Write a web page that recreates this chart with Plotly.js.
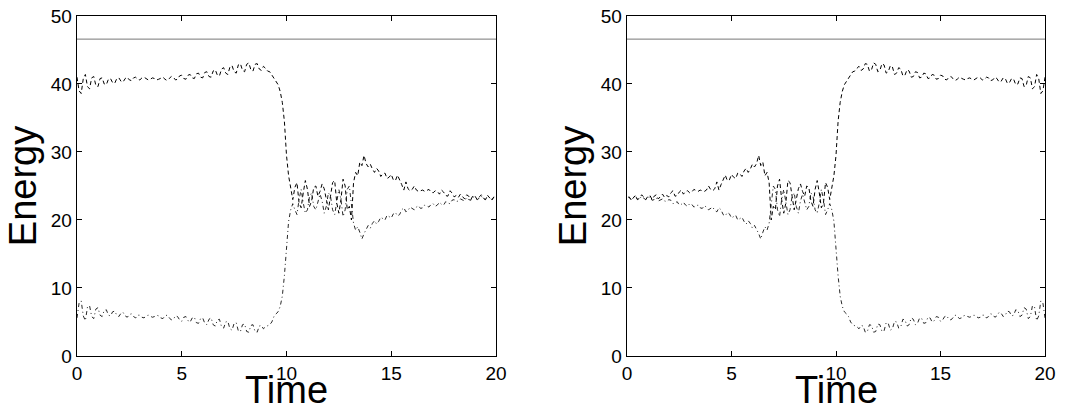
<!DOCTYPE html>
<html>
<head>
<meta charset="utf-8">
<script src="https://cdn.plot.ly/plotly-3.0.1.min.js"></script>
<style>html,body{margin:0;padding:0;background:#fff;}#chart{width:1075px;height:405px;}</style>
</head>
<body>
<div id="chart"></div>
<script>
// Time grid: samples every 0.1 from t = 0 to t = 20 (201 samples)
var timeStart = 0, timeStep = 0.1;

// Left panel, dashed series (upper mode at start)
var leftDashed = [
41.0,39.0,38.6,40.8,41.4,39.6,39.3,40.9,41.1,39.8,
39.6,40.8,40.9,40.0,39.9,40.7,40.8,40.2,40.1,40.8,
40.9,40.4,40.3,40.8,41.0,40.6,40.5,40.9,41.0,40.7,
40.6,40.9,41.0,40.8,40.6,40.7,40.9,40.8,40.6,40.7,
40.9,41.0,40.7,40.5,40.8,41.1,41.0,40.6,40.7,41.2,
41.3,40.8,40.7,41.3,41.4,40.9,40.8,41.5,41.6,41.0,
40.9,41.7,41.8,41.1,41.0,41.9,42.1,41.3,41.2,42.2,
42.4,41.6,41.4,42.5,42.7,41.8,41.6,42.8,43.0,42.0,
41.8,42.9,43.1,42.1,41.9,42.9,43.0,42.2,42.0,42.6,
42.3,41.9,41.8,41.3,40.8,40.3,39.9,38.9,37.3,34.5,
29.5,26.5,24.5,23.0,24.8,25.5,22.5,21.8,24.0,25.8,
24.5,22.0,22.8,24.8,25.0,23.5,24.2,25.3,24.6,22.8,
21.5,23.5,25.5,25.8,22.5,21.0,23.0,26.0,25.0,21.5,
22.0,20.0,25.5,27.0,26.5,28.5,28.0,29.5,28.3,27.8,
28.2,27.5,27.0,27.6,27.2,26.4,26.8,26.9,26.1,26.3,
26.7,25.9,25.8,26.6,26.0,25.2,24.4,25.6,24.6,24.3,
24.5,25.0,24.4,24.2,24.3,24.4,24.2,24.3,24.5,24.1,
24.0,24.3,24.2,23.8,24.4,24.1,23.6,23.5,24.3,24.0,
23.4,23.6,23.3,23.8,23.4,23.1,23.7,23.5,23.0,23.6,
23.5,23.0,23.4,23.7,23.2,23.0,23.6,23.3,22.9,23.4,
23.2
];

// Left panel, dash-dot series (lower mode at start)
var leftDashDot = [
5.6,7.8,8.1,5.9,5.2,7.2,7.4,5.8,5.5,6.9,
7.1,6.0,5.8,6.7,6.8,6.0,5.9,6.5,6.6,6.0,
5.8,6.3,6.4,5.9,5.7,6.1,6.2,5.8,5.6,6.0,
6.0,5.7,5.6,5.9,6.0,5.9,5.7,5.8,6.0,5.9,
5.6,5.5,5.9,6.0,5.6,5.3,5.4,5.9,5.8,5.3,
5.1,5.7,5.8,5.2,5.0,5.6,5.7,4.9,4.8,5.5,
5.6,4.8,4.6,5.4,5.6,4.6,4.4,5.3,5.4,4.3,
4.1,5.0,5.1,4.0,3.8,4.8,4.9,3.7,3.6,4.6,
4.7,3.6,3.5,4.5,4.6,3.6,3.5,4.4,4.5,4.0,
4.3,4.5,4.6,5.0,5.8,6.2,6.5,7.3,8.8,11.8,
16.5,19.8,21.5,22.4,21.5,20.8,23.0,24.5,22.5,21.0,
21.5,23.5,24.0,22.0,21.5,22.5,23.8,22.8,21.0,22.0,
24.0,23.5,21.5,20.8,23.0,24.5,23.0,20.5,21.5,24.5,
25.0,22.0,19.5,18.5,19.0,18.2,17.2,18.0,18.6,19.2,
18.8,19.5,19.9,19.4,19.8,20.4,20.2,20.0,20.7,20.5,
20.3,20.9,21.1,20.6,20.8,21.5,21.8,21.2,21.4,21.9,
21.7,21.5,21.9,22.1,21.7,21.8,22.2,22.0,21.9,22.3,
22.4,22.0,22.2,22.6,22.3,22.2,22.7,22.5,22.4,22.9,
23.0,22.7,22.8,23.1,22.9,22.8,23.3,23.0,22.9,23.4,
23.3,23.0,23.2,23.5,23.1,23.0,23.6,23.3,23.0,23.4,
23.2
];

// Total energy (solid reference line)
var totalTime = [0, 20];
var totalEnergy = [46.6, 46.6];

// Right panel is the time-reversed run: same samples, drawn from t = 20 back to t = 0
var rightStart = 20, rightStep = -0.1;

var xTicks = [0, 5, 10, 15, 20];
var yTicks = [0, 10, 20, 30, 40, 50];
var xTitle = 'Time', yTitle = 'Energy';

var fontFam = 'Liberation Sans, Arial, Helvetica, sans-serif';
var dashStyle = {color: '#000', width: 1, dash: '4px,3px'};
var dashDotStyle = {color: '#111', width: 0.9, dash: '4px,3px,1px,3px'};
var solidStyle = {color: '#777', width: 1};

var traces = [
  {type: 'scatter', mode: 'lines', x: totalTime, y: totalEnergy, line: solidStyle, xaxis: 'x', yaxis: 'y'},
  {type: 'scatter', mode: 'lines', x0: timeStart, dx: timeStep, y: leftDashed, line: dashStyle, xaxis: 'x', yaxis: 'y'},
  {type: 'scatter', mode: 'lines', x0: timeStart, dx: timeStep, y: leftDashDot, line: dashDotStyle, xaxis: 'x', yaxis: 'y'},
  {type: 'scatter', mode: 'lines', x: totalTime, y: totalEnergy, line: solidStyle, xaxis: 'x2', yaxis: 'y2'},
  {type: 'scatter', mode: 'lines', x0: rightStart, dx: rightStep, y: leftDashed, line: dashStyle, xaxis: 'x2', yaxis: 'y2'},
  {type: 'scatter', mode: 'lines', x0: rightStart, dx: rightStep, y: leftDashDot, line: dashDotStyle, xaxis: 'x2', yaxis: 'y2'}
];

function xAxis(dom, anchor) {
  return {
    domain: dom, anchor: anchor, range: [0, 20], tickvals: xTicks, ticktext: xTicks.map(String),
    ticks: 'inside', ticklen: 5, tickcolor: '#000', mirror: 'ticks', showline: true, linecolor: '#000', linewidth: 1.3,
    showgrid: false, zeroline: false, tickfont: {family: fontFam, size: 19, color: '#000'}
  };
}
function yAxis(anchor) {
  return {
    domain: [0.121, 0.9605], anchor: anchor, range: [0, 50], tickvals: yTicks, ticktext: yTicks.map(String),
    ticks: 'inside', ticklen: 5, tickcolor: '#000', mirror: 'ticks', showline: true, linecolor: '#000', linewidth: 1.3,
    showgrid: false, zeroline: false, tickfont: {family: fontFam, size: 19, color: '#000'},
    title: {text: yTitle, font: {family: fontFam, size: 38, color: '#000'}, standoff: 2}
  };
}

function timeTitle(xref) {
  return {text: xTitle, xref: xref, x: 0.5, yref: 'paper', y: 0, xanchor: 'center', yanchor: 'bottom',
          yshift: -8, showarrow: false, font: {family: fontFam, size: 38, color: '#000'}};
}

var layout = {
  width: 1075, height: 405,
  margin: {l: 0, r: 0, t: 0, b: 0},
  paper_bgcolor: '#fff', plot_bgcolor: '#fff',
  showlegend: false,
  xaxis: xAxis([77/1075, 496/1075], 'y'),
  yaxis: yAxis('x'),
  xaxis2: xAxis([627/1075, 1045/1075], 'y2'),
  yaxis2: yAxis('x2'),
  annotations: [timeTitle('x domain'), timeTitle('x2 domain')]
};

Plotly.newPlot('chart', traces, layout, {displayModeBar: false, staticPlot: true});
</script>
</body>
</html>
